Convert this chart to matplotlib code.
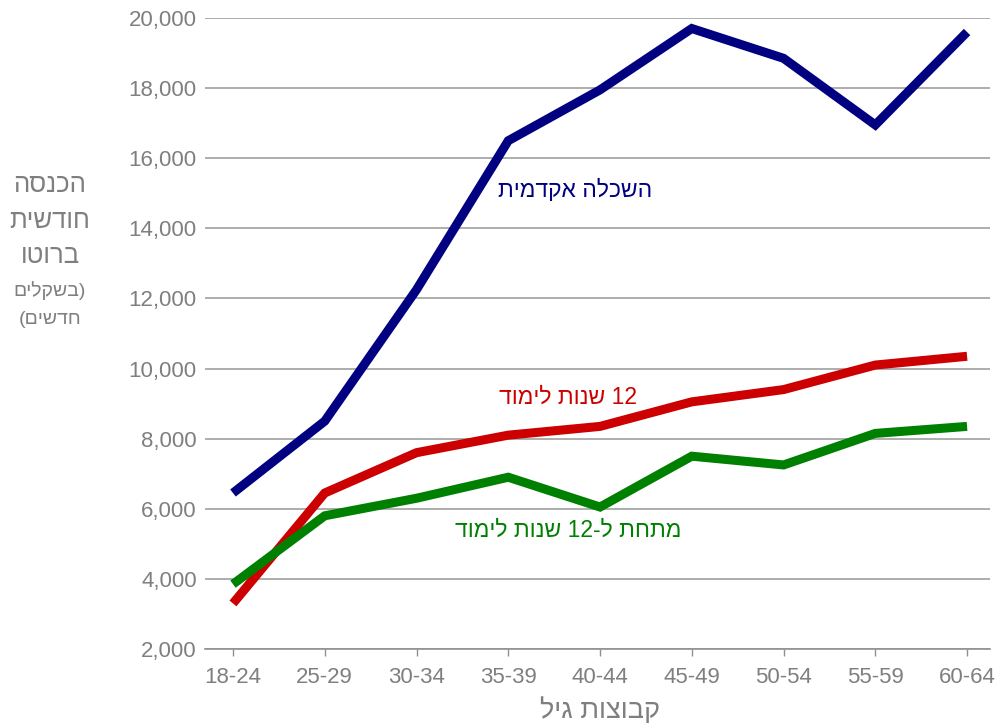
import matplotlib
matplotlib.use("Agg")
import matplotlib.pyplot as plt
from matplotlib.ticker import FuncFormatter

plt.rcParams['font.family'] = ['Liberation Sans', 'DejaVu Sans']

# age groups
age_groups = ["18-24", "25-29", "30-34", "35-39", "40-44", "45-49", "50-54", "55-59", "60-64"]

# monthly gross income (NIS) by education
academic = [6450, 8500, 12250, 16500, 17950, 19700, 18850, 16950, 19600]
years_12 = [3300, 6450, 7600, 8100, 8350, 9050, 9400, 10100, 10350]
under_12 = [3850, 5800, 6300, 6900, 6050, 7500, 7250, 8150, 8350]

# labels (written in visual order, matplotlib has no bidi)
label_academic = "תימדקא הלכשה"          # השכלה אקדמית
label_12 = "דומיל תונש 12"               # 12 שנות לימוד
label_under = "דומיל תונש 12-ל תחתמ"     # מתחת ל-12 שנות לימוד
xlabel_text = "ליג תוצובק"               # קבוצות גיל
ylabel_big = ["הסנכה", "תישדוח", "וטורב"]  # הכנסה חודשית ברוטו
ylabel_small = ["םילקשב)", "(םישדח"]      # (בשקלים חדשים)

GRAY = "#7f7f7f"

fig = plt.figure(figsize=(9.98, 7.27), dpi=100)
ax = fig.add_axes([205 / 998, 78 / 727, 785 / 998, 631 / 727])

x = list(range(len(age_groups)))
for ys, c in [(academic, "#000080"), (years_12, "#cc0000"), (under_12, "#008000")]:
    ax.plot(x, ys, color=c, lw=6.5, solid_capstyle="butt", solid_joinstyle="miter", clip_on=False, zorder=3)

ax.set_xlim(-0.305, 8.25)
ax.set_ylim(2000, 20000)
ax.set_yticks(range(2000, 20001, 2000))
ax.yaxis.set_major_formatter(FuncFormatter(lambda v, p: f"{int(v):,}"))
ax.set_xticks(x)
ax.set_xticklabels(age_groups)

ax.grid(axis="y", color="#a0a0a0", lw=1.2)
ax.set_axisbelow(True)
for s in ["top", "right", "left"]:
    ax.spines[s].set_visible(False)
ax.spines["bottom"].set_color("#909090")
ax.spines["bottom"].set_linewidth(1.2)

ax.tick_params(axis="y", length=0, pad=6, labelsize=16, labelcolor=GRAY)
ax.tick_params(axis="x", length=5, width=1, color="#909090", pad=8, labelsize=16, labelcolor=GRAY)

# series labels
fig.text(575 / 998, 1 - 190 / 727, label_academic, color="#000080", fontsize=16.5, ha="center", va="center")
fig.text(568 / 998, 1 - 397 / 727, label_12, color="#cc0000", fontsize=16.5, ha="center", va="center")
fig.text(568 / 998, 1 - 530 / 727, label_under, color="#008000", fontsize=16.5, ha="center", va="center")

# axis titles
fig.text(600 / 998, 1 - 711 / 727, xlabel_text, color=GRAY, fontsize=19.5, ha="center", va="center")
for yy, t in zip([185, 221, 256], ylabel_big):
    fig.text(50 / 998, 1 - yy / 727, t, color=GRAY, fontsize=18.5, ha="center", va="center")
for yy, t in zip([291, 320], ylabel_small):
    fig.text(50 / 998, 1 - yy / 727, t, color=GRAY, fontsize=14, ha="center", va="center")

fig.savefig("out.png", dpi=100)
